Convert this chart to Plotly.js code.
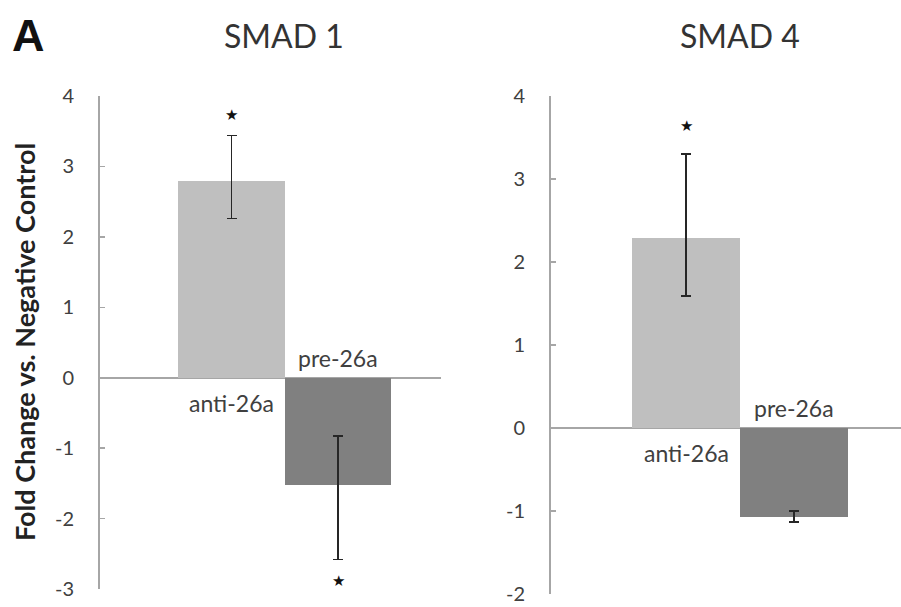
<!DOCTYPE html>
<html>
<head>
<meta charset="utf-8">
<script src="https://cdn.plot.ly/plotly-3.0.1.min.js"></script>
<style>html,body{margin:0;padding:0;background:#fff;}#chart{width:901px;height:607px;}</style>
</head>
<body>
<div id="chart"></div>
<script>
// ---- data ----
var categories = ["anti-26a", "pre-26a"];
var panelTitles = ["SMAD 1", "SMAD 4"];
var smad1Values = [2.79, -1.53];
var smad1ErrPlus = [0.65, 0.70];
var smad1ErrMinus = [0.53, 1.05];
var smad1Sig = [true, true];
var smad4Values = [2.29, -1.07];
var smad4ErrPlus = [1.01, 0.07];
var smad4ErrMinus = [0.70, 0.06];
var smad4Sig = [true, false];
var smad1TickVals = [-3, -2, -1, 0, 1, 2, 3, 4];
var smad1TickText = ["-3", "-2", "-1", "0", "1", "2", "3", "4"];
var smad4TickVals = [-2, -1, 0, 1, 2, 3, 4];
var smad4TickText = ["-2", "-1", "0", "1", "2", "3", "4"];
var yTitle = "Fold Change vs. Negative Control";
var panelLetter = "A";

// ---- style ----
var barColors = ["#bfbfbf", "#808080"];
var axisGray = "#a6a6a6";
var textGray = "#404040";
var FONT = "Lato, 'Open Sans', sans-serif";
var W = 901, H = 607;

function barTrace(vals, plus, minus, xa, ya) {
  return {
    type: "bar", x: categories, y: vals, xaxis: xa, yaxis: ya,
    marker: {color: barColors, line: {width: 0}},
    error_y: {type: "data", symmetric: false, array: plus, arrayminus: minus,
              color: "#262626", thickness: 1.6, width: 5},
    hoverinfo: "none"
  };
}

var data = [
  barTrace(smad1Values, smad1ErrPlus, smad1ErrMinus, "x", "y"),
  barTrace(smad4Values, smad4ErrPlus, smad4ErrMinus, "x2", "y2")
];

var annotations = [];
function labelAnns(vals, xr, yr) {
  categories.forEach(function (c, i) {
    var pos = vals[i] >= 0;
    annotations.push({
      xref: xr, yref: yr, x: c, y: 0, text: c, showarrow: false,
      yanchor: pos ? "top" : "bottom", yshift: pos ? -9 : 4,
      font: {family: FONT, size: 23, color: textGray}
    });
  });
}
function starAnns(vals, plus, minus, sig, xr, yr, upShift, downShift) {
  categories.forEach(function (c, i) {
    if (!sig[i]) return;
    var pos = vals[i] >= 0;
    annotations.push({
      xref: xr, yref: yr, x: c,
      y: pos ? vals[i] + plus[i] : vals[i] - minus[i],
      text: "\u2605", showarrow: false, yanchor: "middle",
      yshift: pos ? upShift : -downShift,
      font: {family: "DejaVu Sans", size: 15, color: "#111"}
    });
  });
}
labelAnns(smad1Values, "x", "y");
labelAnns(smad4Values, "x2", "y2");
starAnns(smad1Values, smad1ErrPlus, smad1ErrMinus, smad1Sig, "x", "y", 20, 22);
starAnns(smad4Values, smad4ErrPlus, smad4ErrMinus, smad4Sig, "x2", "y2", 28, 22);

annotations.push({xref: "paper", yref: "paper", x: 284 / W, y: 1 - 35 / H, text: panelTitles[0],
  showarrow: false, xanchor: "center", yanchor: "middle", font: {family: FONT, size: 32, color: "#333"}});
annotations.push({xref: "paper", yref: "paper", x: 740 / W, y: 1 - 35 / H, text: panelTitles[1],
  showarrow: false, xanchor: "center", yanchor: "middle", font: {family: FONT, size: 32, color: "#333"}});
annotations.push({xref: "paper", yref: "paper", x: 28 / W, y: 1 - 36 / H, text: "<b>" + panelLetter + "</b>",
  showarrow: false, xanchor: "center", yanchor: "middle", font: {family: "Liberation Sans, Arial", size: 45, color: "#111"}});
annotations.push({xref: "paper", yref: "paper", x: 24 / W, y: 1 - 342 / H, text: "<b>" + yTitle + "</b>",
  textangle: -90, showarrow: false, xanchor: "center", yanchor: "middle",
  font: {family: FONT, size: 27, color: "#222"}});

function yAxis(domain, range, tv, tt) {
  return {
    domain: domain, range: range, tickmode: "array", tickvals: tv, ticktext: tt,
    ticks: "inside", ticklen: 5, ticklabeloverflow: "allow",
    tickcolor: axisGray, tickwidth: 1.5, showline: true, linecolor: axisGray, linewidth: 2,
    zeroline: true, zerolinecolor: axisGray, zerolinewidth: 2, showgrid: false,
    tickfont: {family: FONT, size: 20, color: textGray}, ticklabelstandoff: 20, fixedrange: true
  };
}
function xAxis(domain, range) {
  return {domain: domain, range: range, type: "category", showticklabels: false, showline: false,
          ticks: "", showgrid: false, zeroline: false, fixedrange: true};
}

var layout = {
  width: W, height: H, margin: {l: 0, r: 0, t: 0, b: 0},
  paper_bgcolor: "#fff", plot_bgcolor: "rgba(0,0,0,0)", showlegend: false, bargap: 0,
  xaxis: xAxis([100 / W, 441 / W], [-1.235, 1.967]),
  yaxis: yAxis([18 / H, 511 / H], [-3.0001, 4.0001], smad1TickVals, smad1TickText),
  xaxis2: xAxis([551 / W, 1], [-1.25, 1.99]),
  yaxis2: yAxis([13 / H, 511 / H], [-2.0001, 4.0001], smad4TickVals, smad4TickText),
  annotations: annotations
};
layout.yaxis2.anchor = "x2";
layout.xaxis2.anchor = "y2";

Plotly.newPlot("chart", data, layout, {displayModeBar: false, staticPlot: true});
</script>
</body>
</html>
